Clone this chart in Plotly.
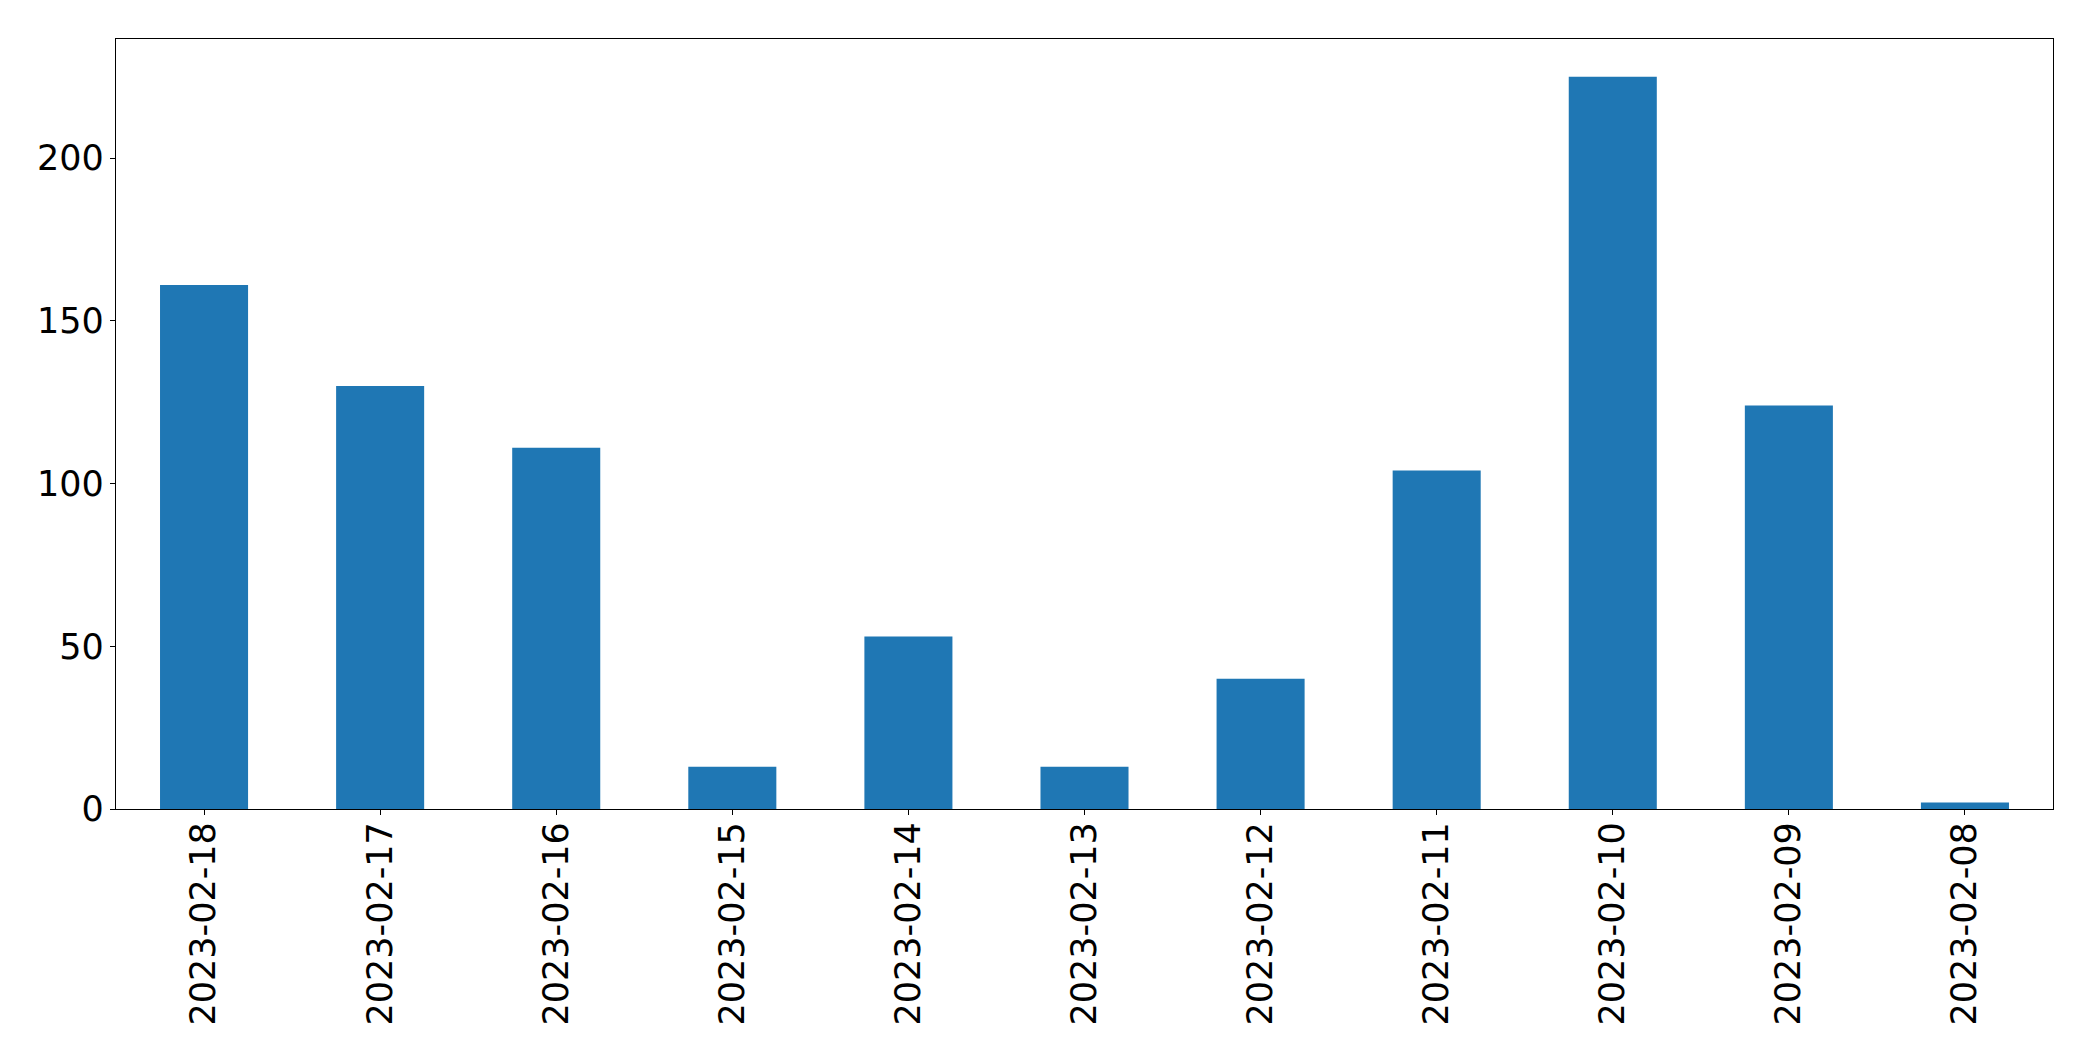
import plotly.graph_objects as go

dates = ["2023-02-18", "2023-02-17", "2023-02-16", "2023-02-15", "2023-02-14",
         "2023-02-13", "2023-02-12", "2023-02-11", "2023-02-10", "2023-02-09", "2023-02-08"]
counts = [161, 130, 111, 13, 53, 13, 40, 104, 225, 124, 2]
y_ticks = [0, 50, 100, 150, 200]

fig = go.Figure(go.Bar(x=dates, y=counts, marker=dict(color="#1f77b4", line=dict(width=0)), width=0.5))

axis_common = dict(showline=True, linecolor="black", linewidth=1.3, mirror=True,
                   ticks="outside", ticklen=5, tickwidth=1.3, tickcolor="black",
                   showgrid=False, zeroline=False,
                   tickfont=dict(family="DejaVu Sans", size=35, color="black"))

# page body has an 8px margin, so the figure is offset by 8px
fig.update_layout(
    width=2077, height=1045,
    margin=dict(l=108, r=32, t=31, b=244),
    plot_bgcolor="white", paper_bgcolor="white",
    showlegend=False,
    xaxis=dict(type="category", range=[-0.5, 10.5], tickangle=-90, ticklabelstandoff=-7, **axis_common),
    yaxis=dict(range=[0, 236.6], tickvals=y_ticks, ticklabelstandoff=-1, **axis_common),
)

fig.write_html("out.html")
